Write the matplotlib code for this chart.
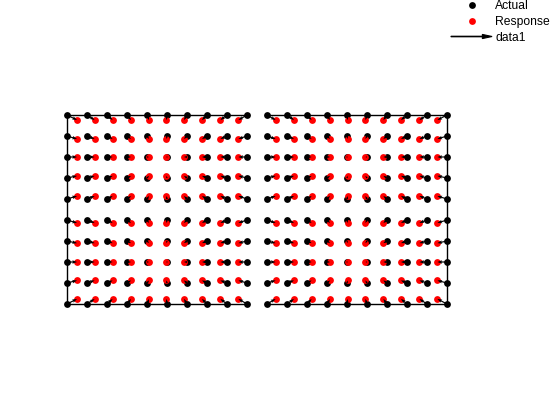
import numpy as np
import matplotlib
matplotlib.use("Agg")
import matplotlib.pyplot as plt
from matplotlib.patches import FancyArrow
from matplotlib.legend_handler import HandlerPatch

plt.rcParams['font.family'] = ['Liberation Sans', 'DejaVu Sans']

# grid of actual positions (columns / rows)
col_x = [0, 1, 2, 3, 4, 5, 6, 7, 8, 9, 10, 11, 12, 13, 14, 15, 16, 17, 18, 19]
row_y = [0, 1, 2, 3, 4, 5, 6, 7, 8, 9]

# response shift per column (x) and per row (y)
col_shift = [0.50, 0.38, 0.28, 0.20, 0.10, -0.03, -0.15, -0.25, -0.33, -0.43,
             0.43, 0.35, 0.23, 0.15, 0.03, -0.08, -0.18, -0.30, -0.38, -0.48]
row_shift = [0.24, 0.12, 0.0, -0.10, -0.14, 0.14, 0.10, 0.0, -0.14, -0.24]

ax_x, ax_y = np.meshgrid(col_x, row_y)
dx, dy = np.meshgrid(col_shift, row_shift)
resp_x = ax_x + dx
resp_y = ax_y + dy

fig = plt.figure(figsize=(5.6, 4.2), dpi=100)
ax = fig.add_axes([47/560, (420-325)/420, 420/560, 231/420])
ax.set_xlim(-1, 20)
ax.set_ylim(-1, 10)
ax.axis('off')

# outline of the two blocks
left, mid_l, mid_r, right = col_x[0], col_x[9], col_x[10], col_x[-1]
bot, top = row_y[0], row_y[-1]
for y in (bot, top):
    ax.plot([left, mid_l], [y, y], color='k', lw=1)
    ax.plot([mid_r, right], [y, y], color='k', lw=1)
ax.plot([left, left], [bot, top], color='k', lw=1)
ax.plot([right, right], [bot, top], color='k', lw=1)

h1, = ax.plot(ax_x.ravel(), ax_y.ravel(), 'o', color='k', ms=4.9, mec='none', label='Actual', zorder=3)
h2, = ax.plot(resp_x.ravel(), resp_y.ravel(), 'o', color='r', ms=4.9, mec='none', label='Response', zorder=3)
ax.quiver(ax_x, ax_y, dx, dy, angles='xy', scale_units='xy', scale=1,
          color='k', width=0.0028, headwidth=3, headlength=4, headaxislength=3.5, zorder=4)

def make_arrow(legend, orig_handle, xdescent, ydescent, width, height, fontsize):
    return FancyArrow(-xdescent, height / 2, width, 0, width=0.4, head_width=3,
                      head_length=7, length_includes_head=True)

arrow_proxy = FancyArrow(0, 0, 1, 0, facecolor='k', edgecolor='k', lw=0.8)
fig.legend([h1, h2, arrow_proxy], ['Actual', 'Response', 'data1'],
           handler_map={FancyArrow: HandlerPatch(patch_func=make_arrow)},
           loc='upper left', bbox_to_anchor=(451/560, 1.0), frameon=False,
           fontsize=8.7, borderpad=0, borderaxespad=0, labelspacing=0.32,
           handlelength=3.4, handletextpad=0.25, numpoints=1)

plt.savefig('out.png', dpi=100)
